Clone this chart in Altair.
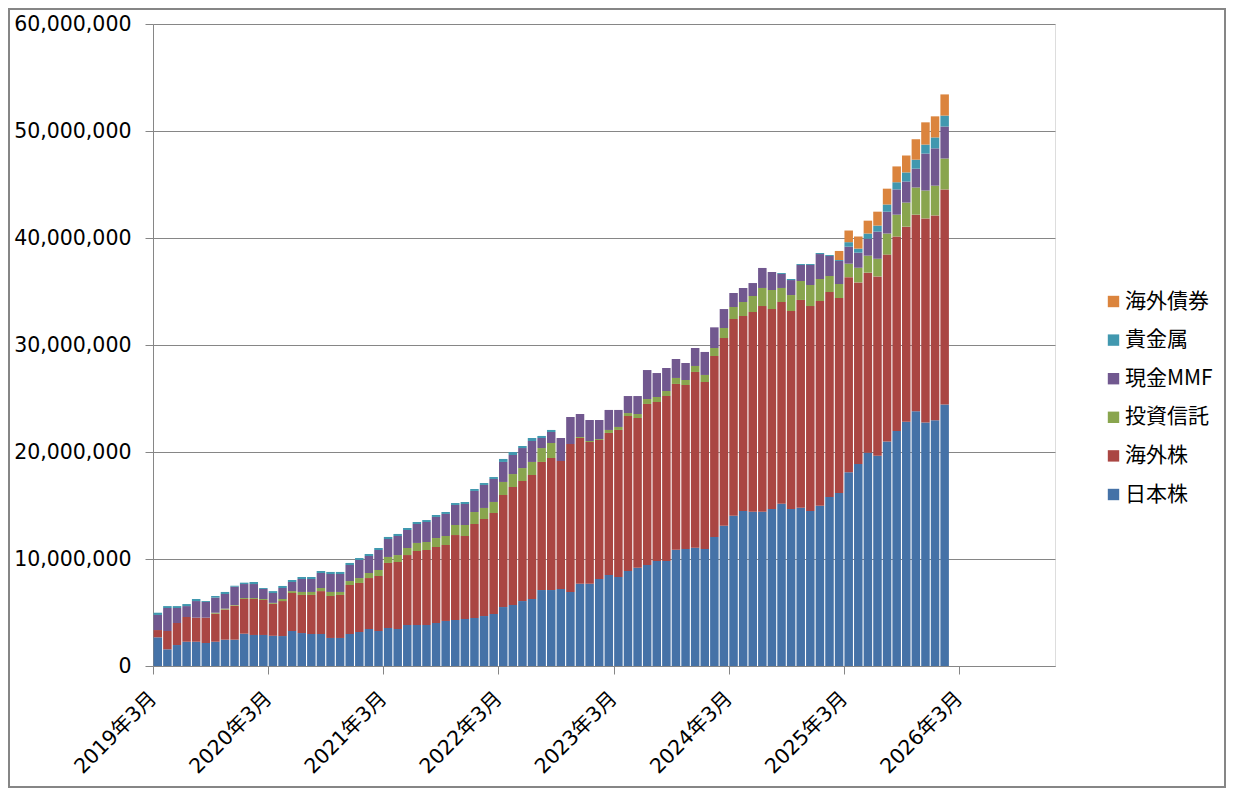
import altair as alt
import pandas as pd
import numpy as np

# Month index 0 = 2019年3月 ... 82 = 2026年1月
series_names = ["日本株", "海外株", "投資信託", "現金MMF", "貴金属", "海外債券"]
legend_order = ["海外債券", "貴金属", "現金MMF", "投資信託", "海外株", "日本株"]
legend_colors = ["#DB843D", "#4198AF", "#71588F", "#89A54E", "#AA4643", "#4572A7"]

# 日本株 amounts (million yen)
jp_stock = [2.68, 1.56, 1.96, 2.27, 2.27, 2.15, 2.27, 2.46, 2.46, 3.02, 2.90, 2.90,
            2.82, 2.80, 3.27, 3.08, 2.99, 2.99, 2.62, 2.62, 2.99, 3.18, 3.46, 3.27,
            3.55, 3.46, 3.83, 3.83, 3.83, 4.02, 4.21, 4.30, 4.39, 4.49, 4.67, 4.86,
            5.51, 5.70, 6.07, 6.26, 7.10, 7.10, 7.20, 6.92, 7.69, 7.69, 8.13, 8.50,
            8.32, 8.88, 9.19, 9.44, 9.81, 9.81, 10.87, 10.93, 11.06, 10.93, 12.06, 13.11,
            14.05, 14.49, 14.42, 14.42, 14.67, 15.17, 14.67, 14.80, 14.49, 14.98, 15.79, 16.17,
            18.10, 18.87, 19.93, 19.65, 20.99, 21.97, 22.82, 23.80, 22.75, 22.96, 24.44]

# cumulative tops (million yen)
top_foreign_stock = [3.36, 3.27, 4.02, 4.58, 4.52, 4.52, 4.89, 5.27, 5.64, 6.26, 6.26, 6.17,
                     5.81, 6.07, 6.82, 6.64, 6.64, 7.00, 6.54, 6.64, 7.57, 7.76, 8.22, 8.41,
                     9.63, 9.72, 10.37, 10.75, 10.84, 11.12, 11.31, 12.24, 12.15, 13.27, 13.74, 14.30,
                     15.98, 16.73, 17.29, 17.85, 19.07, 19.44, 19.16, 20.75, 21.31, 20.93, 21.12, 21.78,
                     22.06, 23.36, 23.18, 24.49, 24.67, 25.23, 26.36, 26.26, 27.48, 26.54, 28.97, 30.65,
                     32.43, 32.71, 33.08, 33.64, 33.36, 34.02, 33.18, 34.21, 33.64, 34.11, 34.95, 34.39,
                     36.34, 35.85, 36.76, 36.41, 38.45, 40.14, 41.06, 42.18, 41.83, 42.11, 44.54]
top_fund = [3.36, 3.27, 4.02, 4.58, 4.52, 4.52, 4.98, 5.36, 5.70, 6.35, 6.35, 6.26,
            5.90, 6.26, 7.00, 6.92, 6.92, 7.29, 6.92, 6.92, 7.94, 8.22, 8.69, 8.97,
            10.19, 10.37, 11.03, 11.50, 11.59, 11.96, 12.15, 13.18, 13.18, 14.39, 14.77, 15.33,
            17.20, 17.94, 18.50, 19.07, 20.37, 20.84, 19.16, 20.75, 21.40, 21.03, 21.21, 22.06,
            22.34, 23.64, 23.55, 24.95, 25.14, 25.70, 26.92, 26.73, 28.04, 27.20, 29.72, 31.59,
            33.55, 34.02, 34.58, 35.33, 35.14, 35.33, 34.67, 35.98, 35.61, 36.17, 36.45, 35.70,
            37.60, 37.22, 38.35, 38.06, 40.42, 42.18, 43.31, 44.72, 44.44, 44.89, 47.43]
top_mmf = [4.77, 5.42, 5.42, 5.60, 6.07, 5.98, 6.39, 6.73, 7.41, 7.66, 7.66, 7.20,
           6.82, 7.29, 7.85, 8.13, 8.13, 8.69, 8.60, 8.60, 9.44, 9.91, 10.28, 10.84,
           11.87, 12.15, 12.71, 13.27, 13.46, 13.93, 14.21, 15.05, 15.14, 16.36, 16.92, 17.48,
           19.07, 19.72, 20.37, 21.03, 21.31, 21.87, 21.31, 23.27, 23.55, 22.99, 22.99, 23.93,
           23.93, 25.23, 25.23, 27.66, 27.38, 27.85, 28.69, 28.32, 29.72, 29.35, 31.65, 33.36,
           34.86, 35.33, 35.79, 37.20, 36.82, 36.64, 36.07, 37.48, 37.48, 38.50, 38.32, 37.85,
           39.19, 38.63, 39.93, 40.60, 42.46, 44.54, 45.28, 46.48, 47.89, 48.38, 50.42]
top_metal = [4.98, 5.60, 5.60, 5.79, 6.26, 6.07, 6.54, 6.92, 7.50, 7.79, 7.85, 7.29,
             7.00, 7.48, 8.04, 8.32, 8.32, 8.88, 8.79, 8.79, 9.63, 10.09, 10.47, 11.03,
             12.06, 12.34, 12.90, 13.46, 13.64, 14.11, 14.39, 15.23, 15.33, 16.54, 17.10, 17.66,
             19.35, 20.00, 20.56, 21.31, 21.50, 22.06, 21.31, 23.27, 23.55, 22.99, 22.99, 23.93,
             23.93, 25.23, 25.23, 27.66, 27.38, 27.85, 28.69, 28.32, 29.72, 29.35, 31.65, 33.36,
             34.86, 35.33, 35.79, 37.20, 36.82, 36.73, 36.17, 37.57, 37.57, 38.60, 38.41, 37.94,
             39.61, 39.01, 40.42, 41.16, 43.13, 45.21, 46.13, 47.32, 48.73, 49.40, 51.44]
# 海外債券 amounts (million yen)
foreign_bond = [0.0] * 71 + [0.85, 1.09, 1.13, 1.20, 1.30, 1.48, 1.48, 1.58, 1.91, 2.08, 1.97, 1.98]

jp = np.array(jp_stock)
tops = [jp, np.array(top_foreign_stock), np.array(top_fund), np.array(top_mmf), np.array(top_metal)]
amounts = [jp] + [np.maximum(tops[i] - tops[i - 1], 0) for i in range(1, 5)] + [np.array(foreign_bond)]

rows = []
for k, (name, vals) in enumerate(zip(series_names, amounts)):
    for m, v in enumerate(vals):
        if v > 0:
            rows.append({"m": m, "s": name, "k": k, "v": float(v) * 1e6})
df = pd.DataFrame(rows)

FONT = "Verdana, DejaVu Sans, Noto Sans CJK JP, sans-serif"
GRAY = "#868686"

bars = alt.Chart(df).transform_calculate(
    xc="datum.m + 0.5"
).mark_bar(size=8.5).encode(
    x=alt.X("xc:Q",
            scale=alt.Scale(domain=[0, 94], nice=False, zero=False, padding=0),
            axis=alt.Axis(values=list(range(0, 85, 12)),
                          labelExpr="(2019 + datum.value / 12) + '年3月'",
                          grid=False, domainColor=GRAY, tickColor=GRAY, tickSize=8,
                          labelAngle=-45, labelAlign="right", labelBaseline="middle",
                          labelFontSize=20.5, labelFont=FONT, labelColor="#000000",
                          labelPadding=21, labelFlush=False, labelOverlap=False,
                          title=None)),
    y=alt.Y("v:Q", stack="zero",
            scale=alt.Scale(domain=[0, 60000000], nice=False),
            axis=alt.Axis(values=list(range(0, 60000001, 10000000)), format=",d",
                          grid=True, gridColor=GRAY, domainColor=GRAY, tickColor=GRAY,
                          tickSize=8, labelPadding=14, labelFontSize=20.5, labelFont=FONT,
                          labelColor="#000000", title=None)),
    color=alt.Color("s:N",
                    scale=alt.Scale(domain=legend_order, range=legend_colors),
                    legend=alt.Legend(title=None, orient="none", legendX=950, legendY=267,
                                      symbolType="square", symbolSize=130, symbolStrokeWidth=0,
                                      labelFontSize=21, labelFont="Noto Sans CJK JP",
                                      labelColor="#000000", rowPadding=16.6, labelOffset=1,
                                      padding=0)),
    order=alt.Order("k:Q", sort="ascending"),
)

frame = alt.Chart(pd.DataFrame({"a": [0]})).mark_rect(
    fillOpacity=0, stroke=GRAY, strokeWidth=2, clip=False
).encode(x=alt.value(-144), x2=alt.value(1072), y=alt.value(-15), y2=alt.value(763))

chart = alt.layer(bars, frame).properties(
    width=902, height=642,
    padding={"left": 145, "top": 16, "right": 171, "bottom": 122},
    autosize=alt.AutoSizeParams(type="none"),
).configure_view(stroke=None).configure(background="#ffffff")

chart.save("out.html", embed_options={"renderer": "svg", "actions": False})
